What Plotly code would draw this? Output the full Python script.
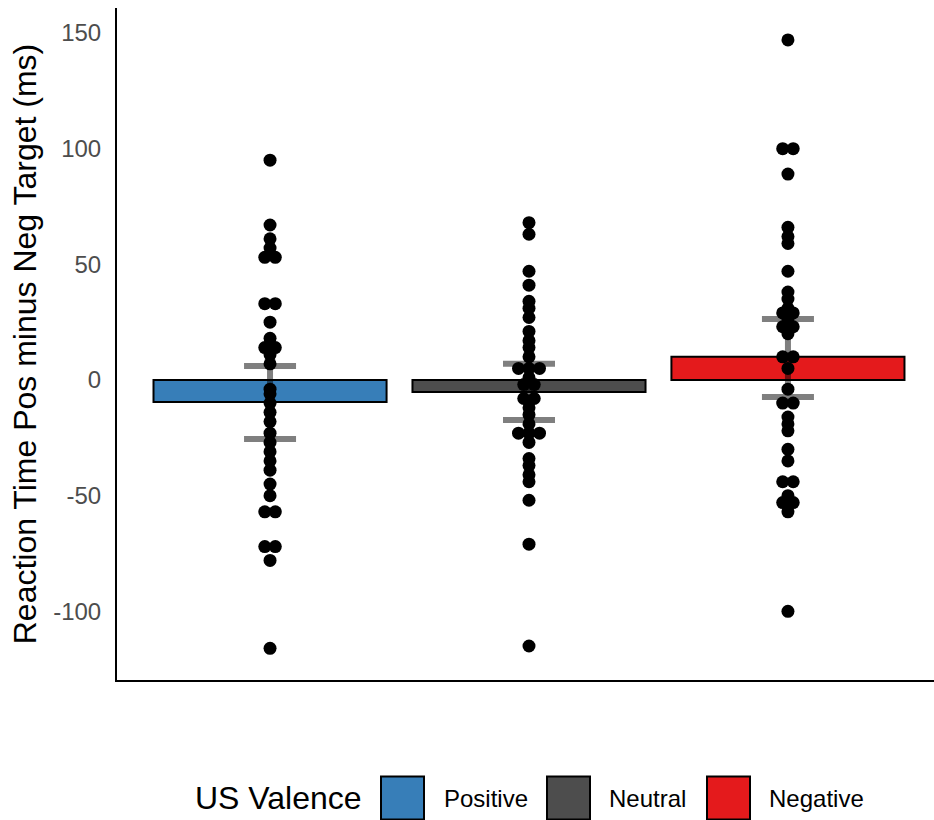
import plotly.graph_objects as go

# Condition labels and fill colours
categories = ["Positive", "Neutral", "Negative"]
colors = ["#377EB8", "#4D4D4D", "#E41A1C"]

# Condition means and interval bounds (ms)
means = [-9.5, -5.2, 10.0]
ci_low = [-25.5, -17.3, -7.4]
ci_high = [6.0, 7.0, 26.4]

# Per-participant difference scores (ms)
positive_scores = [95, 67, 61, 57, 53, 53, 33, 33, 25, 18, 14, 14, 11, 7, -4, -6, -10,
                   -14, -18, -23, -27, -31, -35, -39, -45, -50, -57, -57, -72, -72, -78, -116]
neutral_scores = [68, 63, 47, 41, 34, 31, 27, 21, 17, 14, 10, 5, 5, 5, 1, -2, -2, -8, -8,
                  -12, -15, -19, -23, -23, -23, -27, -34, -37, -41, -44, -52, -71, -115]
negative_scores = [147, 100, 100, 89, 66, 62, 59, 47, 38, 35, 31, 29, 29, 26, 23, 23, 20, 10,
                   10, 5, -4, -10, -10, -16, -19, -22, -30, -35, -44, -44, -50, -53, -53, -57, -100]
scores = [positive_scores, neutral_scores, negative_scores]

# Y-axis ticks
y_ticks = [-100, -50, 0, 50, 100, 150]

# Figure geometry (px)
W, H = 934, 820
ML, MR, MT, MB = 117, 0, 8, 140
PW, PH = W - ML - MR, H - MT - MB
XR = [0.409, 3.564]
YR = [-129.7, 160.8]
PX_PER_X = PW / (XR[1] - XR[0])
PX_PER_Y = PH / (YR[1] - YR[0])

FONT = "Arial, Liberation Sans, sans-serif"


def swarm_offsets(vals, gap_px=2.5, step_px=10.5):
    """Spread near-identical values side by side, centred on the category."""
    order = sorted(range(len(vals)), key=lambda i: vals[i])
    offs = [0.0] * len(vals)
    groups, cur = [], [order[0]]
    for i in order[1:]:
        if abs(vals[i] - vals[cur[0]]) * PX_PER_Y < gap_px:
            cur.append(i)
        else:
            groups.append(cur)
            cur = [i]
    groups.append(cur)
    for g in groups:
        n = len(g)
        for k, i in enumerate(g):
            offs[i] = (k - (n - 1) / 2) * step_px / PX_PER_X
    return offs


fig = go.Figure()

xpos = [i + 1 for i in range(len(categories))]
fig.add_trace(go.Bar(
    x=xpos, y=means, width=0.9,
    marker=dict(color=colors, line=dict(color="black", width=2)),
    error_y=dict(type="data", symmetric=False,
                 array=[h - m for h, m in zip(ci_high, means)],
                 arrayminus=[m - l for m, l in zip(means, ci_low)],
                 color="rgba(0,0,0,0.5)", thickness=6, width=26),
    showlegend=False, hoverinfo="skip",
))

for xi, vals in zip(xpos, scores):
    offs = swarm_offsets(vals)
    fig.add_trace(go.Scatter(
        x=[xi + o for o in offs], y=vals, mode="markers",
        marker=dict(color="black", size=13, line=dict(width=0)),
        showlegend=False,
    ))


def px_to_paper(px, py):
    return (px - ML) / PW, (H - MB - py) / PH


# Legend drawn as keys + labels below the panel
legend_y = 798
key_size = 43
key_left = [381, 547, 707]
label_left = [442, 607, 767]
shapes, annotations = [], []
for name, col, kx, lx in zip(categories, colors, key_left, label_left):
    x0, y0 = px_to_paper(kx, legend_y + key_size / 2)
    x1, y1 = px_to_paper(kx + key_size, legend_y - key_size / 2)
    shapes.append(dict(type="rect", xref="paper", yref="paper", x0=x0, y0=y0, x1=x1, y1=y1,
                       fillcolor=col, line=dict(color="black", width=2)))
    ax, ay = px_to_paper(lx, legend_y)
    annotations.append(dict(xref="paper", yref="paper", x=ax, y=ay, text=name, showarrow=False,
                            xanchor="left", yanchor="middle",
                            font=dict(family=FONT, size=24, color="black")))
tx, ty = px_to_paper(364, legend_y)
annotations.append(dict(xref="paper", yref="paper", x=tx, y=ty, text="US Valence", showarrow=False,
                        xanchor="right", yanchor="middle",
                        font=dict(family=FONT, size=32, color="black")))

fig.update_layout(
    width=W, height=H,
    margin=dict(l=ML, r=MR, t=MT, b=MB, autoexpand=False),
    paper_bgcolor="white", plot_bgcolor="white",
    font=dict(family=FONT),
    shapes=shapes, annotations=annotations,
    xaxis=dict(range=XR, showgrid=False, zeroline=False, showticklabels=False, ticks="",
               showline=True, linecolor="black", linewidth=2, fixedrange=True),
    yaxis=dict(range=YR, showgrid=False, zeroline=False,
               tickvals=y_ticks, ticktext=[str(v) for v in y_ticks],
               tickfont=dict(family=FONT, size=24, color="#4D4D4D"),
               ticks="", ticklabelstandoff=9,
               showline=True, linecolor="black", linewidth=2,
               title=dict(text="Reaction Time Pos minus Neg Target (ms)",
                          font=dict(family=FONT, size=32, color="black"), standoff=7)),
)

fig.write_html("out.html")
